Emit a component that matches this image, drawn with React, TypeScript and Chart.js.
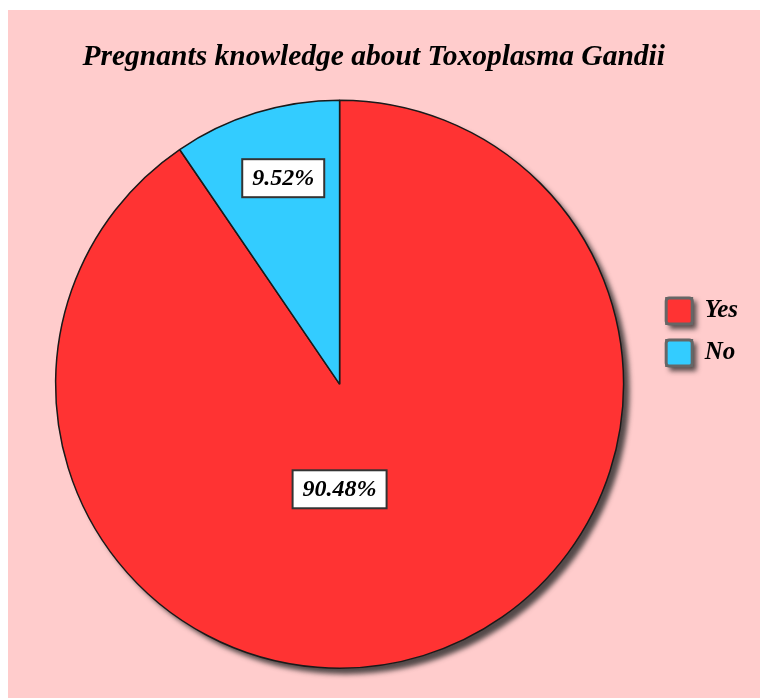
import React, { useEffect, useRef } from "react";
import { Chart, registerables } from "chart.js";

Chart.register(...registerables);

const categories: string[] = ["Yes", "No"];
const percentValues: number[] = [90.48, 9.52];
const sliceColors: string[] = ["#FF3333", "#33CCFF"];
const titleText = "Pregnants knowledge about Toxoplasma Gandii";

const SERIF = "'Liberation Serif', 'Times New Roman', 'DejaVu Serif', serif";

// label placement relative to each arc: radial fraction + optional fixed angle (degrees, canvas convention)
const labelPlacement = [
  { frac: 0.37, angle: 90 as number | null },
  { frac: 0.752, angle: -105.3 as number | null },
];

const pieShadowPlugin = {
  id: "pieShadow",
  beforeDatasetsDraw(chart: any) {
    const meta = chart.getDatasetMeta(0);
    const arc = meta.data[0];
    if (!arc) return;
    const { x, y, outerRadius } = arc.getProps(["x", "y", "outerRadius"], true);
    const ctx = chart.ctx;
    ctx.save();
    ctx.shadowColor = "rgba(40,40,40,0.8)";
    ctx.shadowBlur = 5;
    ctx.shadowOffsetX = 6;
    ctx.shadowOffsetY = 6;
    ctx.beginPath();
    ctx.arc(x, y, outerRadius, 0, Math.PI * 2);
    ctx.fillStyle = sliceColors[0];
    ctx.fill();
    ctx.restore();
  },
};

const legendShadowPlugin = {
  id: "legendShadow",
  beforeDraw(chart: any) {
    const legend = chart.legend;
    if (!legend || !legend.legendHitBoxes) return;
    const opts = legend.options.labels;
    const ctx = chart.ctx;
    ctx.save();
    ctx.shadowColor = "rgba(30,30,30,0.75)";
    ctx.shadowBlur = 5;
    ctx.shadowOffsetX = 4;
    ctx.shadowOffsetY = 4;
    ctx.fillStyle = "#666";
    for (const hb of legend.legendHitBoxes) {
      ctx.fillRect(hb.left - 1, hb.top - 1, opts.boxWidth + 2, opts.boxHeight + 2);
    }
    ctx.restore();
  },
};

const sliceLabelPlugin = {
  id: "sliceLabels",
  afterDatasetsDraw(chart: any) {
    const meta = chart.getDatasetMeta(0);
    const ctx = chart.ctx;
    ctx.save();
    ctx.font = `italic bold 24px ${SERIF}`;
    ctx.textAlign = "center";
    ctx.textBaseline = "middle";
    meta.data.forEach((arc: any, i: number) => {
      const { x, y, startAngle, endAngle, outerRadius } = arc.getProps(
        ["x", "y", "startAngle", "endAngle", "outerRadius"],
        true
      );
      const place = labelPlacement[i];
      const ang = place.angle !== null ? (place.angle * Math.PI) / 180 : (startAngle + endAngle) / 2;
      const r = outerRadius * place.frac;
      const cx = x + Math.cos(ang) * r;
      const cy = y + Math.sin(ang) * r;
      const text = percentValues[i].toFixed(2) + "%";
      const tw = ctx.measureText(text).width;
      const w = tw + 20;
      const h = 38;
      ctx.fillStyle = "#FFFFFF";
      ctx.fillRect(cx - w / 2, cy - h / 2, w, h);
      ctx.lineWidth = 2;
      ctx.strokeStyle = "#333";
      ctx.strokeRect(cx - w / 2, cy - h / 2, w, h);
      ctx.fillStyle = "#000";
      ctx.fillText(text, cx, cy + 1);
    });
    ctx.restore();
  },
};

export default function App() {
  const canvasRef = useRef<HTMLCanvasElement | null>(null);

  useEffect(() => {
    if (!canvasRef.current) return;
    const chart = new Chart(canvasRef.current, {
      type: "pie",
      data: {
        labels: categories,
        datasets: [
          {
            data: percentValues,
            backgroundColor: sliceColors,
            borderColor: "#1a1a1a",
            borderWidth: 1.5,
            radius: 284,
          } as any,
        ],
      },
      options: {
        responsive: false,
        animation: false,
        events: [],
        layout: { padding: { left: 21, right: 12, top: 0, bottom: 25 } },
        plugins: {
          title: {
            display: true,
            // trailing spaces nudge the centred title to the left, as in the reference
            text: titleText + "\u00A0\u00A0\u00A0\u00A0",
            color: "#000",
            font: { family: SERIF, size: 29.5, weight: "bold", style: "italic", lineHeight: 1.2 },
            padding: { top: 30, bottom: 20 },
          },
          legend: {
            display: true,
            position: "right",
            align: "start",
            title: {
              display: true,
              text: " ",
              font: { size: 10, lineHeight: 1 },
              padding: { top: 262, bottom: 0 },
            },
            labels: {
              boxWidth: 26,
              boxHeight: 26,
              padding: 16,
              color: "#000",
              useBorderRadius: true,
              borderRadius: 3,
              font: { family: SERIF, size: 25, weight: "bold", style: "italic" },
              generateLabels(ch: any) {
                const base = (Chart as any).overrides.pie.plugins.legend.labels.generateLabels(ch);
                return base.map((it: any) => ({
                  ...it,
                  strokeStyle: "#666",
                  lineWidth: 3,
                  borderRadius: 3,
                  fontColor: "#000",
                }));
              },
            },
          },
          tooltip: { enabled: false },
        },
      } as any,
      plugins: [pieShadowPlugin, legendShadowPlugin, sliceLabelPlugin],
    });
    return () => chart.destroy();
  }, []);

  return (
    <div
      style={{
        position: "fixed",
        left: 8,
        top: 10,
        right: 0,
        bottom: 0,
        background: "#FFCCCC",
      }}
    >
      <canvas ref={canvasRef} width={752} height={688} style={{ display: "block" }} />
    </div>
  );
}
